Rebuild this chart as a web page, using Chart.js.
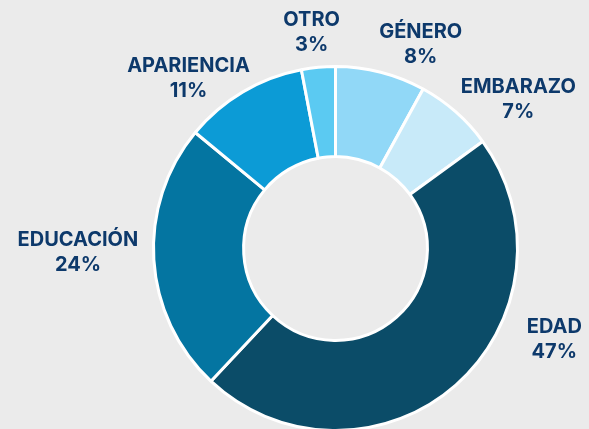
<!DOCTYPE html>
<html>
<head>
<meta charset="utf-8">
<script src="https://cdn.jsdelivr.net/npm/chart.js@4"></script>
<style>
  html, body { margin: 0; padding: 0; background: #ebebeb; overflow: hidden; }
  #wrap { width: 589px; height: 500px; }
</style>
</head>
<body>
<div id="wrap"><canvas id="chart-motivos" width="589" height="500"></canvas></div>
<script>
// Datos del gráfico
const categorias = ['GÉNERO', 'EMBARAZO', 'EDAD', 'EDUCACIÓN', 'APARIENCIA', 'OTRO'];
const porcentajes = [8, 7, 47, 24, 11, 3];
const colores = ['#91d8f7', '#c8eaf9', '#0b4c68', '#0475a1', '#0c9bd6', '#5bcaf2'];

// ajuste manual de cada etiqueta respecto al punto medio del arco
const ajustesEtiquetas = [[30, 11], [36, 18], [72, -76], [-36, -10], [-34, 21], [-3, 5]];

const etiquetasPlugin = {
    id: 'etiquetas',
    afterDatasetsDraw(chart) {
        const ctx = chart.ctx;
        const meta = chart.getDatasetMeta(0);
        ctx.save();
        ctx.fillStyle = '#0d396b';
        ctx.font = 'bold 20px Inter';
        ctx.textAlign = 'center';
        ctx.textBaseline = 'middle';
        meta.data.forEach((arc, i) => {
            const mid = (arc.startAngle + arc.endAngle) / 2;
            const r = arc.outerRadius + 40;
            const x = arc.x + Math.cos(mid) * r + ajustesEtiquetas[i][0];
            const y = arc.y + Math.sin(mid) * r + ajustesEtiquetas[i][1];
            ctx.fillText(categorias[i], x, y - 12.5);
            ctx.fillText(porcentajes[i] + '%', x, y + 12.5);
        });
        ctx.restore();
    }
};

new Chart(document.getElementById('chart-motivos').getContext('2d'), {
    type: 'doughnut',
    data: {
        labels: categorias,
        datasets: [{
            data: porcentajes,
            backgroundColor: colores,
            borderColor: '#ffffff',
            borderWidth: 3
        }]
    },
    options: {
        responsive: false,
        animation: false,
        devicePixelRatio: 1,
        cutout: '50.5%',
        layout: { padding: { left: 152, right: 70, top: 65, bottom: 68 } },
        plugins: {
            legend: { display: false },
            tooltip: { enabled: false }
        }
    },
    plugins: [etiquetasPlugin]
});
</script>
</body>
</html>
